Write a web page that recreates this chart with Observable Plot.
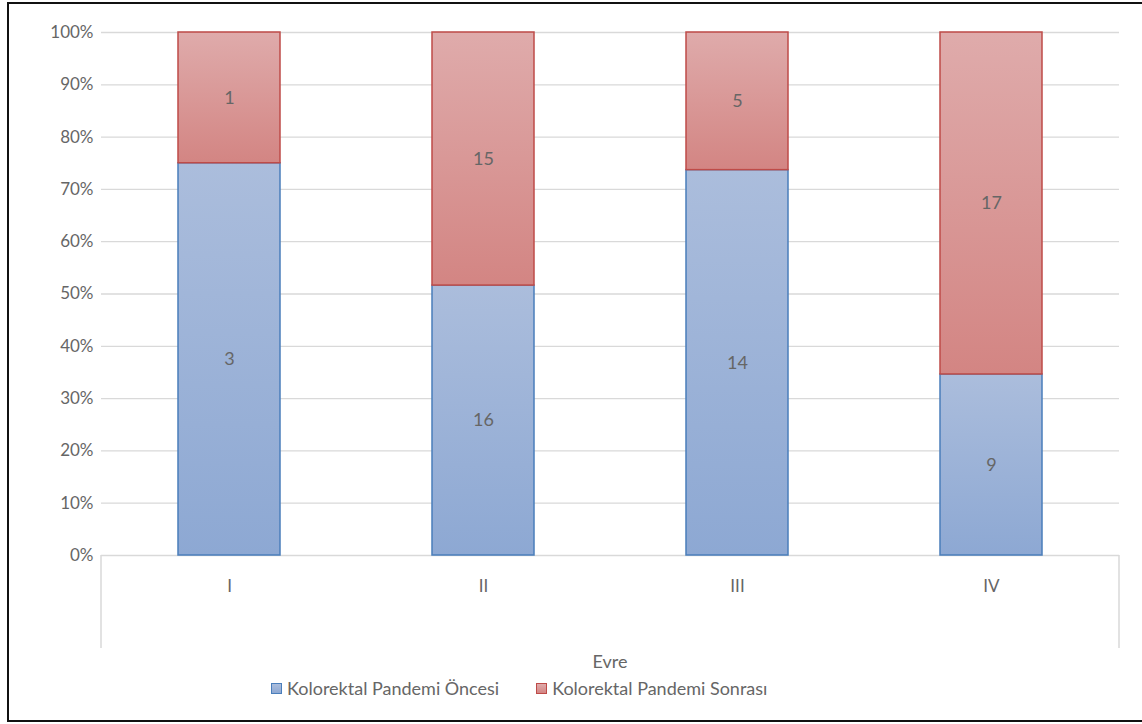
<!DOCTYPE html>
<html>
<head>
<meta charset="utf-8">
<script src="https://cdn.jsdelivr.net/npm/d3@7"></script>
<script src="https://cdn.jsdelivr.net/npm/@observablehq/plot@0.6"></script>
<style>
  html, body { margin: 0; padding: 0; background: #fff; overflow: hidden; }
  body { width: 1142px; height: 724px; position: relative; font-family: Lato, "Noto Sans", sans-serif; }
  #frame { position: absolute; left: 7px; top: 2px; width: 1150px; height: 720px; border: 2px solid #111; box-sizing: border-box; }
  #chart { position: absolute; left: 0; top: 0; }
  #legend { position: absolute; left: 271px; top: 677px; display: flex; font-size: 18px; color: #666; }
  .item { display: flex; align-items: center; margin: 0 37px 0 0; }
  .sw { width: 11px; height: 11px; margin-right: 5px; box-sizing: border-box; }
</style>
</head>
<body>
<div id="frame"></div>
<div id="chart"></div>
<div id="legend"></div>
<script>
const categories = ["I", "II", "III", "IV"];
const series = ["Kolorektal Pandemi Öncesi", "Kolorektal Pandemi Sonrası"];
const oncesi = [3, 16, 14, 9];
const sonrasi = [1, 15, 5, 17];
const yTicks = [0, 0.1, 0.2, 0.3, 0.4, 0.5, 0.6, 0.7, 0.8, 0.9, 1];
const axisTitle = "Evre";

const strokes = ["#4a7ebb", "#be4b48"];
const gradTop = ["#abbddc", "#dfabab"];
const gradBottom = ["#8da8d3", "#d38583"];
const textColor = "#666666";

const rows = [];
categories.forEach((c, i) => {
  rows.push({evre: c, seri: series[0], value: oncesi[i]});
  rows.push({evre: c, seri: series[1], value: sonrasi[i]});
});

const W = 1142, H = 724;
const chart = Plot.plot({
  width: W,
  height: H,
  marginLeft: 101,
  marginRight: 23,
  marginTop: 32,
  marginBottom: 169,
  style: {fontFamily: "Lato, 'Noto Sans', sans-serif", fontSize: "16px", color: textColor, background: "transparent"},
  x: {domain: categories, paddingInner: 0.6, paddingOuter: 0.3, label: null},
  y: {domain: [0, 1], label: null},
  color: {domain: series, range: ["url(#gradBlue)", "url(#gradRed)"]},
  marks: [
    Plot.gridY(yTicks, {stroke: "#d9d9d9", strokeOpacity: 1, strokeWidth: 1.3}),
    Plot.axisY(yTicks, {tickSize: 0, tickPadding: 8, tickFormat: d3.format(".0%"), label: null, fontSize: 17, fill: textColor}),
    Plot.axisX({tickSize: 0, tickPadding: 24, label: null, fontSize: 17, fill: textColor}),
    Plot.barY(rows, Plot.stackY({offset: "normalize"}, {
      x: "evre", y: "value", fill: "seri",
      stroke: d => d.seri === series[0] ? strokes[0] : strokes[1],
      strokeWidth: 1.5
    })),
    Plot.text(rows, Plot.stackY({offset: "normalize"}, {
      x: "evre", y: "value", text: d => String(d.value), fill: textColor, fontSize: 18
    }))
  ]
});

// gradients
const svg = d3.select(chart);
const defs = svg.insert("defs", ":first-child");
[["gradBlue", 0], ["gradRed", 1]].forEach(([id, k]) => {
  const g = defs.append("linearGradient").attr("id", id).attr("x1", 0).attr("y1", 0).attr("x2", 0).attr("y2", 1);
  g.append("stop").attr("offset", "0%").attr("stop-color", gradTop[k]);
  g.append("stop").attr("offset", "100%").attr("stop-color", gradBottom[k]);
});

// category axis frame: side separators and title
const xs = chart.scale("x");
const ys = chart.scale("y");
const [x0, x1] = xs.range;
const y0 = ys.apply(0);
const sep = svg.append("g").attr("stroke", "#d9d9d9").attr("stroke-width", 1.5);
sep.append("line").attr("x1", x0).attr("x2", x0).attr("y1", y0).attr("y2", y0 + 93);
sep.append("line").attr("x1", x1).attr("x2", x1).attr("y1", y0).attr("y2", y0 + 93);
svg.append("text").attr("x", (x0 + x1) / 2).attr("y", y0 + 108)
  .attr("text-anchor", "middle").attr("dominant-baseline", "middle")
  .attr("fill", textColor).attr("font-size", 18).text(axisTitle);

document.getElementById("chart").appendChild(chart);

// legend
const leg = d3.select("#legend");
series.forEach((s, k) => {
  const it = leg.append("div").attr("class", "item");
  it.append("div").attr("class", "sw")
    .style("background", `linear-gradient(${gradTop[k]}, ${gradBottom[k]})`)
    .style("border", `1.5px solid ${strokes[k]}`);
  it.append("span").text(s);
});
</script>
</body>
</html>
